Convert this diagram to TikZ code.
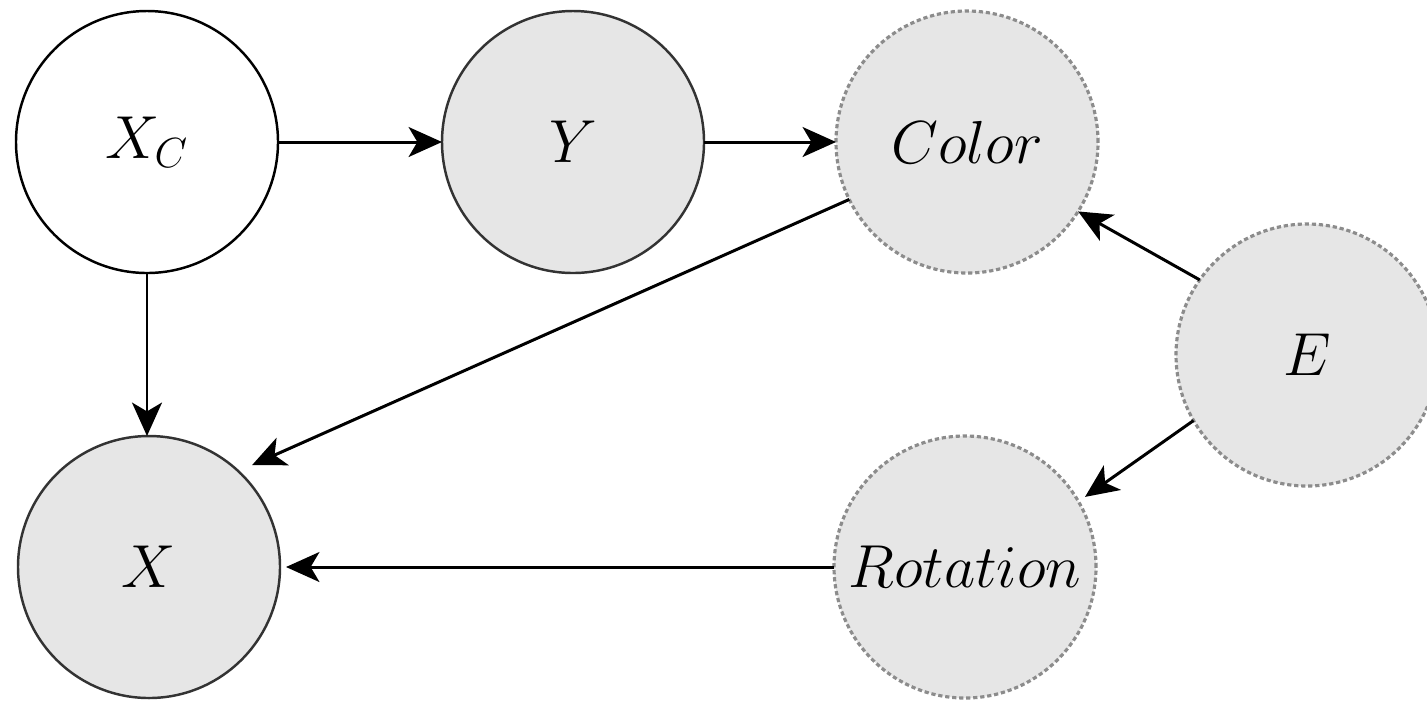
\documentclass[tikz,border=0pt]{standalone}
\usetikzlibrary{arrows.meta}
\definecolor{nodefill}{HTML}{E6E6E6}
\definecolor{solidline}{HTML}{333333}
\definecolor{dotline}{HTML}{8C8C8C}
\tikzset{
  var/.style={circle, minimum size=2.62cm, inner sep=0pt, outer sep=0pt, line width=0.7pt, font=\LARGE},
  observed/.style={var, draw=solidline, fill=nodefill},
  latent/.style={var, draw=black, fill=white},
  envvar/.style={var, draw=dotline, fill=nodefill, dash pattern=on 1.2pt off 0.8pt, line width=0.9pt},
  edge/.style={draw=black, line width=0.85pt, -{Stealth[length=9.5pt, width=8.5pt, inset=2.5pt]}}
}
\begin{document}
\begin{tikzpicture}
\useasboundingbox (0,0) rectangle (14.27,7);
\node[latent]   (XC)  at (1.47,5.58) {$X_C$};
\node[observed] (Y)   at (5.73,5.58) {$Y$};
\node[envvar]   (Col) at (9.67,5.58) {$Color$};
\node[envvar]   (E)   at (13.07,3.45) {$E$};
\node[observed] (X)   at (1.49,1.33) {$X$};
\node[envvar]   (Rot) at (9.65,1.33) {$Rotation$};
\draw[edge] (XC) -- (Y);
\draw[edge] (Y) -- (Col);
\draw[edge] (XC.south) -- (XC.south |- X.north);
\draw[edge, shorten >=0.15cm] (Col.206) -- (X.47);
\draw[edge] (E.145) -- (Col.-32);
\draw[edge, shorten >=0.08cm] (E.210) -- (Rot.30);
\draw[edge, shorten >=0.06cm] (Rot.west) -- (X.east);
\end{tikzpicture}
\end{document}
